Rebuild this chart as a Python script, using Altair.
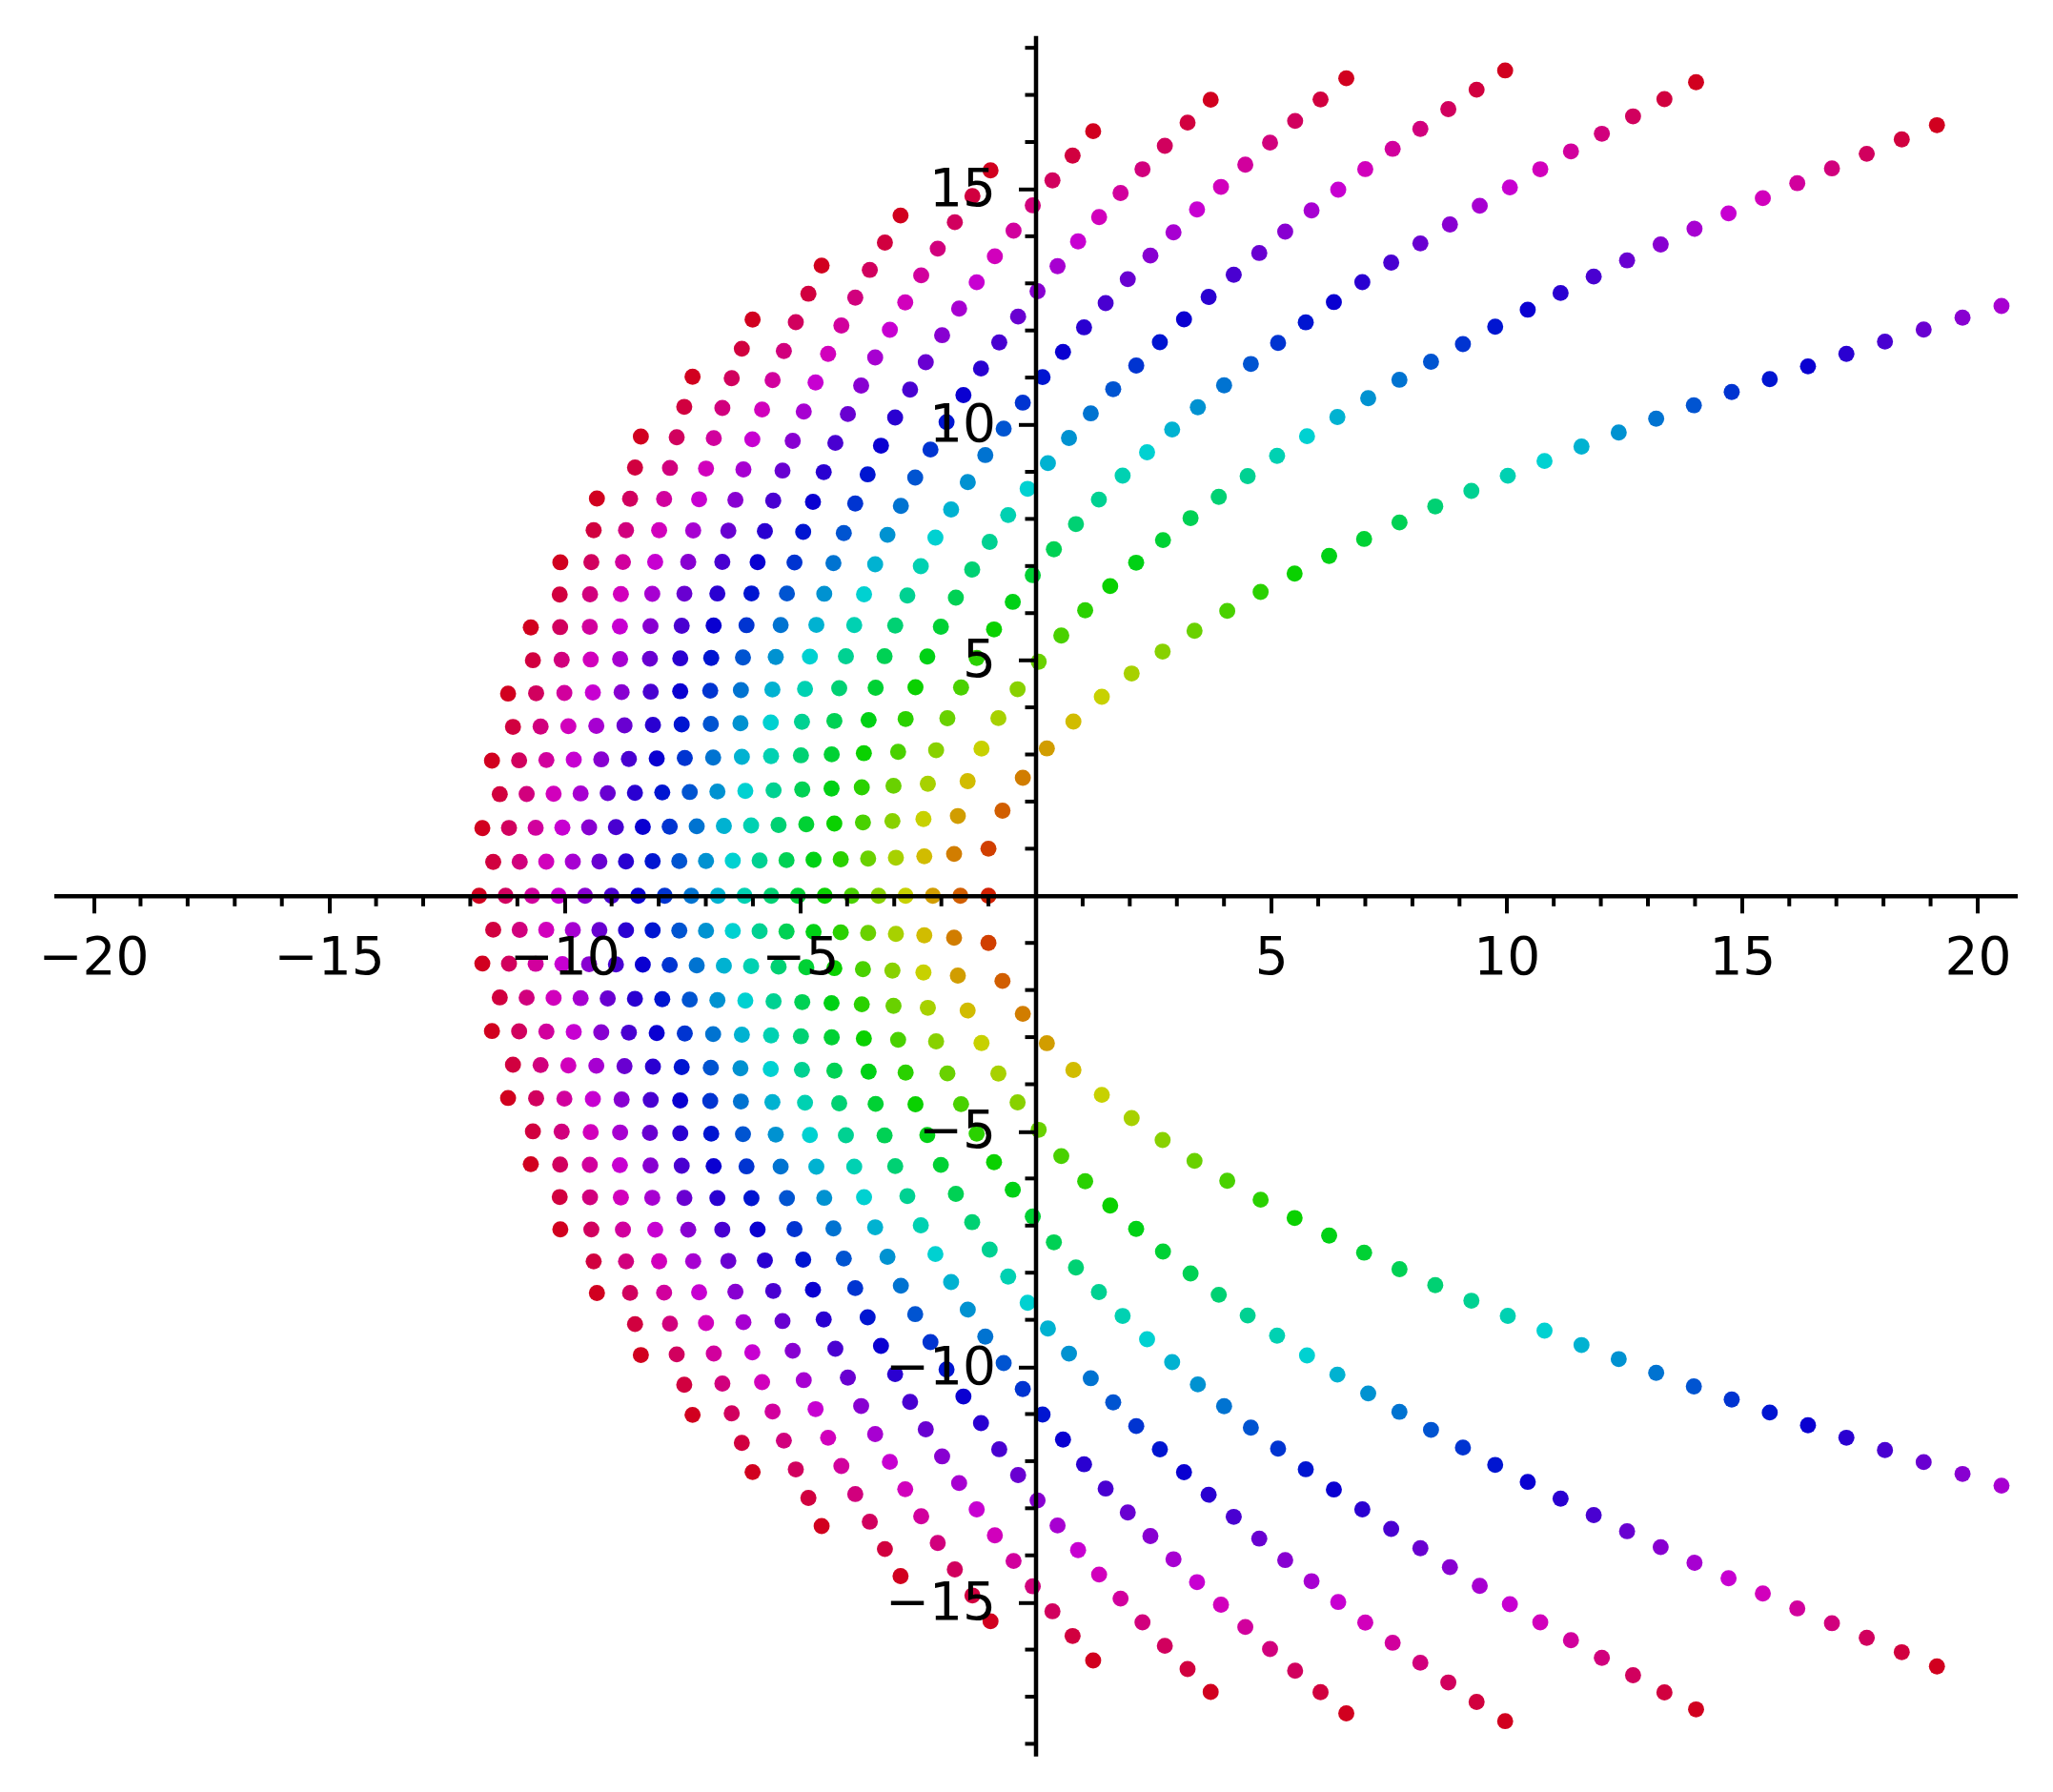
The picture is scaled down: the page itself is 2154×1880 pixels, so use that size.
import math
import colorsys
import numpy as np
import pandas as pd
import altair as alt

# Zeros of the Taylor polynomials s_n(z) = sum_{k=0}^{n} z^k / k!  for these degrees,
# coloured by hue(n / HUE_DENOM)
DEGREES = [1, 2, 3, 4, 5, 6, 7, 8, 9, 10, 11, 12, 13, 14, 15, 16, 17, 18, 19, 20,
           21, 22, 23, 24, 25, 26, 27, 28, 29, 30, 31, 32, 33, 34, 35, 36, 37, 38, 39]
HUE_DENOM = 40

X_MAJOR = [-20, -15, -10, -5, 5, 10, 15, 20]
Y_MAJOR = [-15, -10, -5, 5, 10, 15]
X_MINOR = [-19, -18, -17, -16, -14, -13, -12, -11, -9, -8, -7, -6, -4, -3, -2, -1,
           1, 2, 3, 4, 6, 7, 8, 9, 11, 12, 13, 14, 16, 17, 18, 19]
Y_MINOR = [-18, -17, -16, -14, -13, -12, -11, -9, -8, -7, -6, -4, -3, -2, -1,
           1, 2, 3, 4, 6, 7, 8, 9, 11, 12, 13, 14, 16, 17, 18]
X_DOMAIN = [-20.84, 20.84]
Y_DOMAIN = [-18.26, 18.26]

W = 2060
H = 1805


def partial_exp(n, z):
    term = np.ones_like(z)
    total = np.ones_like(z)
    for k in range(1, n + 1):
        term = term * z / k
        total = total + term
    return total


def zeros_of(n):
    coeffs = [1.0 / math.factorial(k) for k in range(n, -1, -1)]
    z = np.roots(coeffs).astype(complex)
    for _ in range(4):
        f = partial_exp(n, z)
        fp = partial_exp(n - 1, z) if n > 1 else np.ones_like(z)
        z = z - f / fp
    return z


rows = []
for n in DEGREES:
    r, g, b = colorsys.hsv_to_rgb(n / HUE_DENOM, 1.0, 0.82)
    col = "#%02x%02x%02x" % (int(round(r * 255)), int(round(g * 255)), int(round(b * 255)))
    for z in zeros_of(n):
        rows.append({"re": float(z.real), "im": float(z.imag), "n": n, "color": col})
df = pd.DataFrame(rows)

xs = alt.Scale(domain=X_DOMAIN, nice=False, zero=False)
ys = alt.Scale(domain=Y_DOMAIN, nice=False, zero=False)

x_axis = alt.Axis(values=X_MAJOR, orient="bottom", offset=-H / 2, title=None, grid=False,
                  domainColor="black", domainWidth=4.5, tickColor="black", tickWidth=4,
                  tickSize=18, labelFont="DejaVu Sans", labelFontSize=55, labelColor="black",
                  labelPadding=21, labelFlush=False, labelOverlap=False, format="d",
                  labelExpr="replace(datum.label, '-', '\u2212')", zindex=1)
y_axis = alt.Axis(values=Y_MAJOR, orient="left", offset=-W / 2, title=None, grid=False,
                  domainColor="black", domainWidth=4.5, tickColor="black", tickWidth=4,
                  tickSize=18, labelFont="DejaVu Sans", labelFontSize=55, labelColor="black",
                  labelPadding=24, labelOverlap=False, format="d",
                  labelExpr="replace(datum.label, '-', '\u2212')", zindex=1)

points = alt.Chart(df).mark_circle(size=285, opacity=1, clip=True).encode(
    x=alt.X("re:Q", scale=xs, axis=x_axis),
    y=alt.Y("im:Q", scale=ys, axis=y_axis),
    color=alt.Color("color:N", scale=None),
)

xminor = alt.Chart(pd.DataFrame({"x": X_MINOR, "y": [0] * len(X_MINOR)})).mark_tick(
    orient="vertical", size=11, thickness=4, color="black", yOffset=5.5, opacity=1
).encode(
    x=alt.X("x:Q", scale=xs, axis=x_axis),
    y=alt.Y("y:Q", scale=ys, axis=y_axis),
)

yminor = alt.Chart(pd.DataFrame({"y": Y_MINOR, "x": [0] * len(Y_MINOR)})).mark_tick(
    orient="horizontal", size=11, thickness=4, color="black", xOffset=-5.5, opacity=1
).encode(
    x=alt.X("x:Q", scale=xs, axis=x_axis),
    y=alt.Y("y:Q", scale=ys, axis=y_axis),
)

chart = alt.layer(points, xminor, yminor).properties(
    width=W,
    height=H,
    padding={"left": 48.5, "top": 29.3, "right": 20, "bottom": 20},
    autosize=alt.AutoSizeParams(type="none"),
).configure_view(stroke=None)

chart.save("out.html", embed_options={"renderer": "svg", "actions": False})
